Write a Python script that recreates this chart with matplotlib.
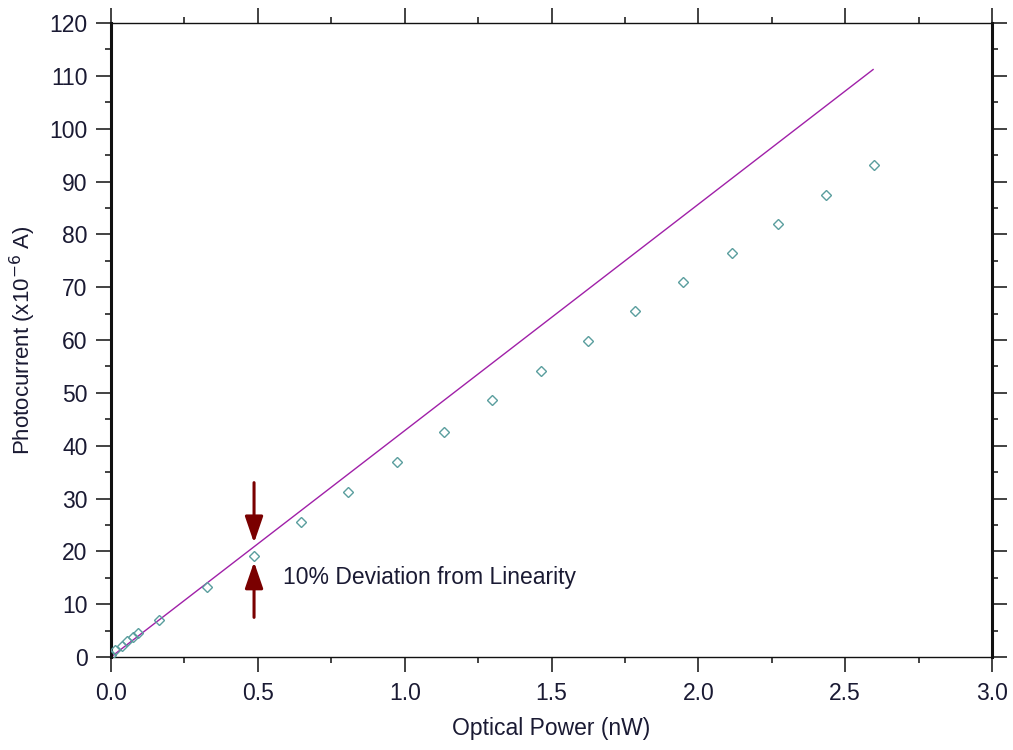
import matplotlib
matplotlib.use("Agg")
import matplotlib.pyplot as plt
from matplotlib.ticker import MultipleLocator, FormatStrFormatter

plt.rcParams['font.family'] = ['Liberation Sans', 'DejaVu Sans']

power = [0.0, 0.014, 0.036, 0.056, 0.076, 0.093, 0.164, 0.326, 0.487, 0.647, 0.807,
         0.974, 1.134, 1.297, 1.464, 1.624, 1.784, 1.948, 2.114, 2.271, 2.434, 2.598]
current = [0.3, 1.3, 2.1, 3.0, 3.8, 4.6, 7.0, 13.2, 19.1, 25.6, 31.2,
           36.9, 42.6, 48.6, 54.1, 59.8, 65.5, 71.0, 76.5, 82.0, 87.4, 93.1]
fit_x = [0.0, 2.595]
fit_slope = 42.85
annot_x = 0.487
annot_text = "10% Deviation from Linearity"

fig = plt.figure(figsize=(10.13, 7.5), dpi=100)
ax = fig.add_axes([0.1096, 0.124, 0.8697, 0.8453])

ax.plot(fit_x, [fit_slope * v for v in fit_x], color='#a020a8', lw=1.0, zorder=2)
ax.plot(power, current, linestyle='none', marker='D', markersize=5.0,
        markerfacecolor='none', markeredgecolor='#5a9e9e', markeredgewidth=1.0, zorder=3)

ax.set_xlim(0, 3.0)
ax.set_ylim(0, 120)
ax.xaxis.set_major_locator(MultipleLocator(0.5))
ax.xaxis.set_minor_locator(MultipleLocator(0.25))
ax.yaxis.set_major_locator(MultipleLocator(10))
ax.yaxis.set_minor_locator(MultipleLocator(5))
ax.xaxis.set_major_formatter(FormatStrFormatter('%.1f'))

ax.tick_params(which='both', direction='out', top=True, right=True, colors='#222222',
               labelcolor='#1a1a33', labelsize=16.5)
ax.tick_params(which='major', length=11, width=1.2)
ax.tick_params(which='minor', length=4.5, width=1.2)
ax.tick_params(axis='x', pad=7)
ax.tick_params(axis='y', pad=6)

ax.spines['left'].set_linewidth(2.2)
ax.spines['right'].set_linewidth(2.2)
ax.spines['top'].set_linewidth(1.0)
ax.spines['bottom'].set_linewidth(1.0)
for s in ax.spines.values():
    s.set_color('#111111')

ax.set_xlabel('Optical Power (nW)', fontsize=16.5, color='#1a1a33', labelpad=9)
ax.set_ylabel('Photocurrent (x10$^{-6}$ A)', fontsize=16, color='#1a1a33', labelpad=8)

arrow_col = '#7a0000'
ax.annotate('', xy=(annot_x, 21.6), xytext=(annot_x, 33.0),
            arrowprops=dict(arrowstyle='-|>,head_length=1.6,head_width=0.55',
                            color=arrow_col, lw=2.2, shrinkA=0, shrinkB=0))
ax.annotate('', xy=(annot_x, 18.0), xytext=(annot_x, 7.5),
            arrowprops=dict(arrowstyle='-|>,head_length=1.6,head_width=0.55',
                            color=arrow_col, lw=2.2, shrinkA=0, shrinkB=0))
ax.text(0.586, 15.0, annot_text, fontsize=16.5, color='#1a1a33', va='center', ha='left')

fig.savefig('out.png', dpi=100)
